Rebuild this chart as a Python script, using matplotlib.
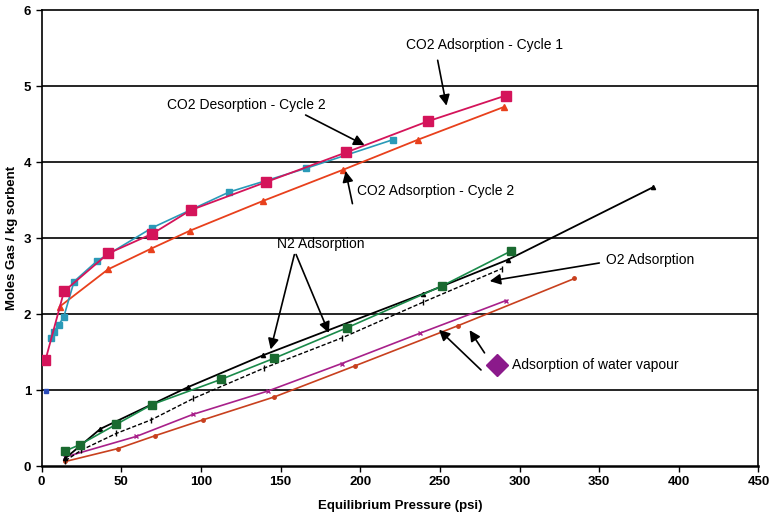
import matplotlib
matplotlib.use("Agg")
import matplotlib.pyplot as plt

plt.rcParams['font.family'] = ['Liberation Sans', 'DejaVu Sans']

# ---------------- DATA ----------------
co2_ads1_x = [2.4, 14.1, 41.9, 69.6, 93.6, 140.9, 191.1, 242.4, 291.4]
co2_ads1_y = [1.39, 2.30, 2.80, 3.06, 3.37, 3.74, 4.13, 4.54, 4.88]

co2_des2_x = [6.2, 7.6, 10.8, 13.9, 20.4, 34.8, 69.6, 117.9, 165.8, 220.8]
co2_des2_y = [1.69, 1.77, 1.86, 1.96, 2.43, 2.70, 3.14, 3.61, 3.92, 4.30]

co2_ads2_x = [11.4, 41.7, 68.5, 93.2, 138.8, 189.0, 236.5, 290.3]
co2_ads2_y = [2.10, 2.59, 2.86, 3.10, 3.49, 3.90, 4.30, 4.73]

lone_x = [3.0]
lone_y = [0.99]

n2_green_x = [15.0, 24.0, 47.0, 69.4, 112.5, 146.1, 191.6, 251.2, 294.5]
n2_green_y = [0.20, 0.28, 0.55, 0.81, 1.14, 1.42, 1.82, 2.37, 2.83]

n2_black_x = [14.8, 37.0, 92.0, 139.2, 239.7, 293.0, 383.6]
n2_black_y = [0.10, 0.49, 1.04, 1.46, 2.27, 2.72, 3.67]

o2_x = [15.0, 25.0, 47.0, 69.0, 95.3, 139.7, 188.8, 239.7, 288.9]
o2_y = [0.07, 0.21, 0.43, 0.61, 0.89, 1.29, 1.69, 2.16, 2.60]

water1_x = [15.0, 59.5, 95.0, 142.4, 188.4, 237.6, 291.6]
water1_y = [0.12, 0.39, 0.68, 0.99, 1.35, 1.75, 2.18]

water2_x = [15.0, 48.0, 71.4, 101.6, 146.1, 196.8, 261.6, 334.5]
water2_y = [0.06, 0.23, 0.40, 0.61, 0.91, 1.32, 1.85, 2.47]

x_ticks = [0, 50, 100, 150, 200, 250, 300, 350, 400, 450]
y_ticks = [0, 1, 2, 3, 4, 5, 6]

# ---------------- FIGURE ----------------
fig = plt.figure(figsize=(7.72, 5.17), dpi=100)
ax = fig.add_axes([0.0538, 0.0986, 0.9287, 0.8811])

for y in y_ticks[1:-1]:
    ax.axhline(y, color='black', lw=1.2, zorder=1)

ax.plot(co2_ads2_x, co2_ads2_y, color='#e8401c', lw=1.3, marker='^', ms=5, zorder=3)
ax.plot(co2_des2_x, co2_des2_y, color='#2a9ab8', lw=1.2, marker='s', ms=5, zorder=3)
ax.plot(co2_ads1_x, co2_ads1_y, color='#d4145a', lw=1.3, marker='s', ms=6.5, zorder=4)
ax.plot(lone_x, lone_y, color='#2a4ab8', lw=0, marker='s', ms=2.5, zorder=4)

ax.plot(water2_x, water2_y, color='#c8401e', lw=1.2, marker='o', ms=2.5, zorder=3)
ax.plot(water1_x, water1_y, color='#a8208a', lw=1.2, marker='x', ms=3, mew=1, zorder=3)
ax.plot(o2_x, o2_y, color='black', lw=1.0, ls=(0, (3, 1.5)), marker='|', ms=5, zorder=3)
ax.plot(n2_green_x, n2_green_y, color='#1a8a4a', lw=1.2, marker='s', ms=6, mfc='#1a6a30', mec='#1a6a30', zorder=4)
ax.plot(n2_black_x, n2_black_y, color='black', lw=1.3, marker='^', ms=3, zorder=3)

ax.plot([286], [1.33], marker='D', ms=11, color='#8b1a8b', lw=0, clip_on=False, zorder=5)

# ---------------- ANNOTATIONS ----------------
arrow = dict(arrowstyle='-|>', color='black', lw=1.2, mutation_scale=16)
fs = 10

ax.text(277.8, 5.54, 'CO2 Adsorption - Cycle 1', ha='center', va='center', fontsize=fs)
ax.annotate('', xy=(254.5, 4.71), xytext=(248.3, 5.38), arrowprops=arrow)

ax.text(128.4, 4.75, 'CO2 Desorption - Cycle 2', ha='center', va='center', fontsize=fs)
ax.annotate('', xy=(204.3, 4.21), xytext=(164.2, 4.64), arrowprops=arrow)

ax.text(198.0, 3.62, 'CO2 Adsorption - Cycle 2', ha='left', va='center', fontsize=fs)
ax.annotate('', xy=(190.5, 3.92), xytext=(195.5, 3.42), arrowprops=arrow)

ax.text(175.5, 2.93, 'N2 Adsorption', ha='center', va='center', fontsize=fs)
ax.annotate('', xy=(143.4, 1.50), xytext=(159.1, 2.82), arrowprops=arrow)
ax.annotate('', xy=(181.0, 1.72), xytext=(159.1, 2.82), arrowprops=arrow)

ax.text(354.0, 2.72, 'O2 Adsorption', ha='left', va='center', fontsize=fs)
ax.annotate('', xy=(279.6, 2.43), xytext=(351.8, 2.68), arrowprops=arrow)

ax.text(295.4, 1.33, 'Adsorption of water vapour', ha='left', va='center', fontsize=fs)
ax.annotate('', xy=(267.7, 1.82), xytext=(279.0, 1.46), arrowprops=arrow)
ax.annotate('', xy=(248.2, 1.82), xytext=(277.1, 1.24), arrowprops=arrow)

# ---------------- AXES ----------------
ax.set_xlim(0, 450)
ax.set_ylim(0, 6)
ax.set_xticks(x_ticks)
ax.set_yticks(y_ticks)
ax.tick_params(axis='both', labelsize=9.5, length=4, width=1, color='black')
for lbl in ax.get_xticklabels() + ax.get_yticklabels():
    lbl.set_fontweight('bold')
for side in ['left', 'right', 'top']:
    ax.spines[side].set_linewidth(1.2)
ax.spines['bottom'].set_linewidth(1.8)

ax.set_xlabel('Equilibrium Pressure (psi)', fontsize=9.5, fontweight='bold', labelpad=8)
ax.set_ylabel('Moles Gas / kg sorbent', fontsize=9.5, fontweight='bold', labelpad=4)

fig.savefig('out.png', dpi=100)
